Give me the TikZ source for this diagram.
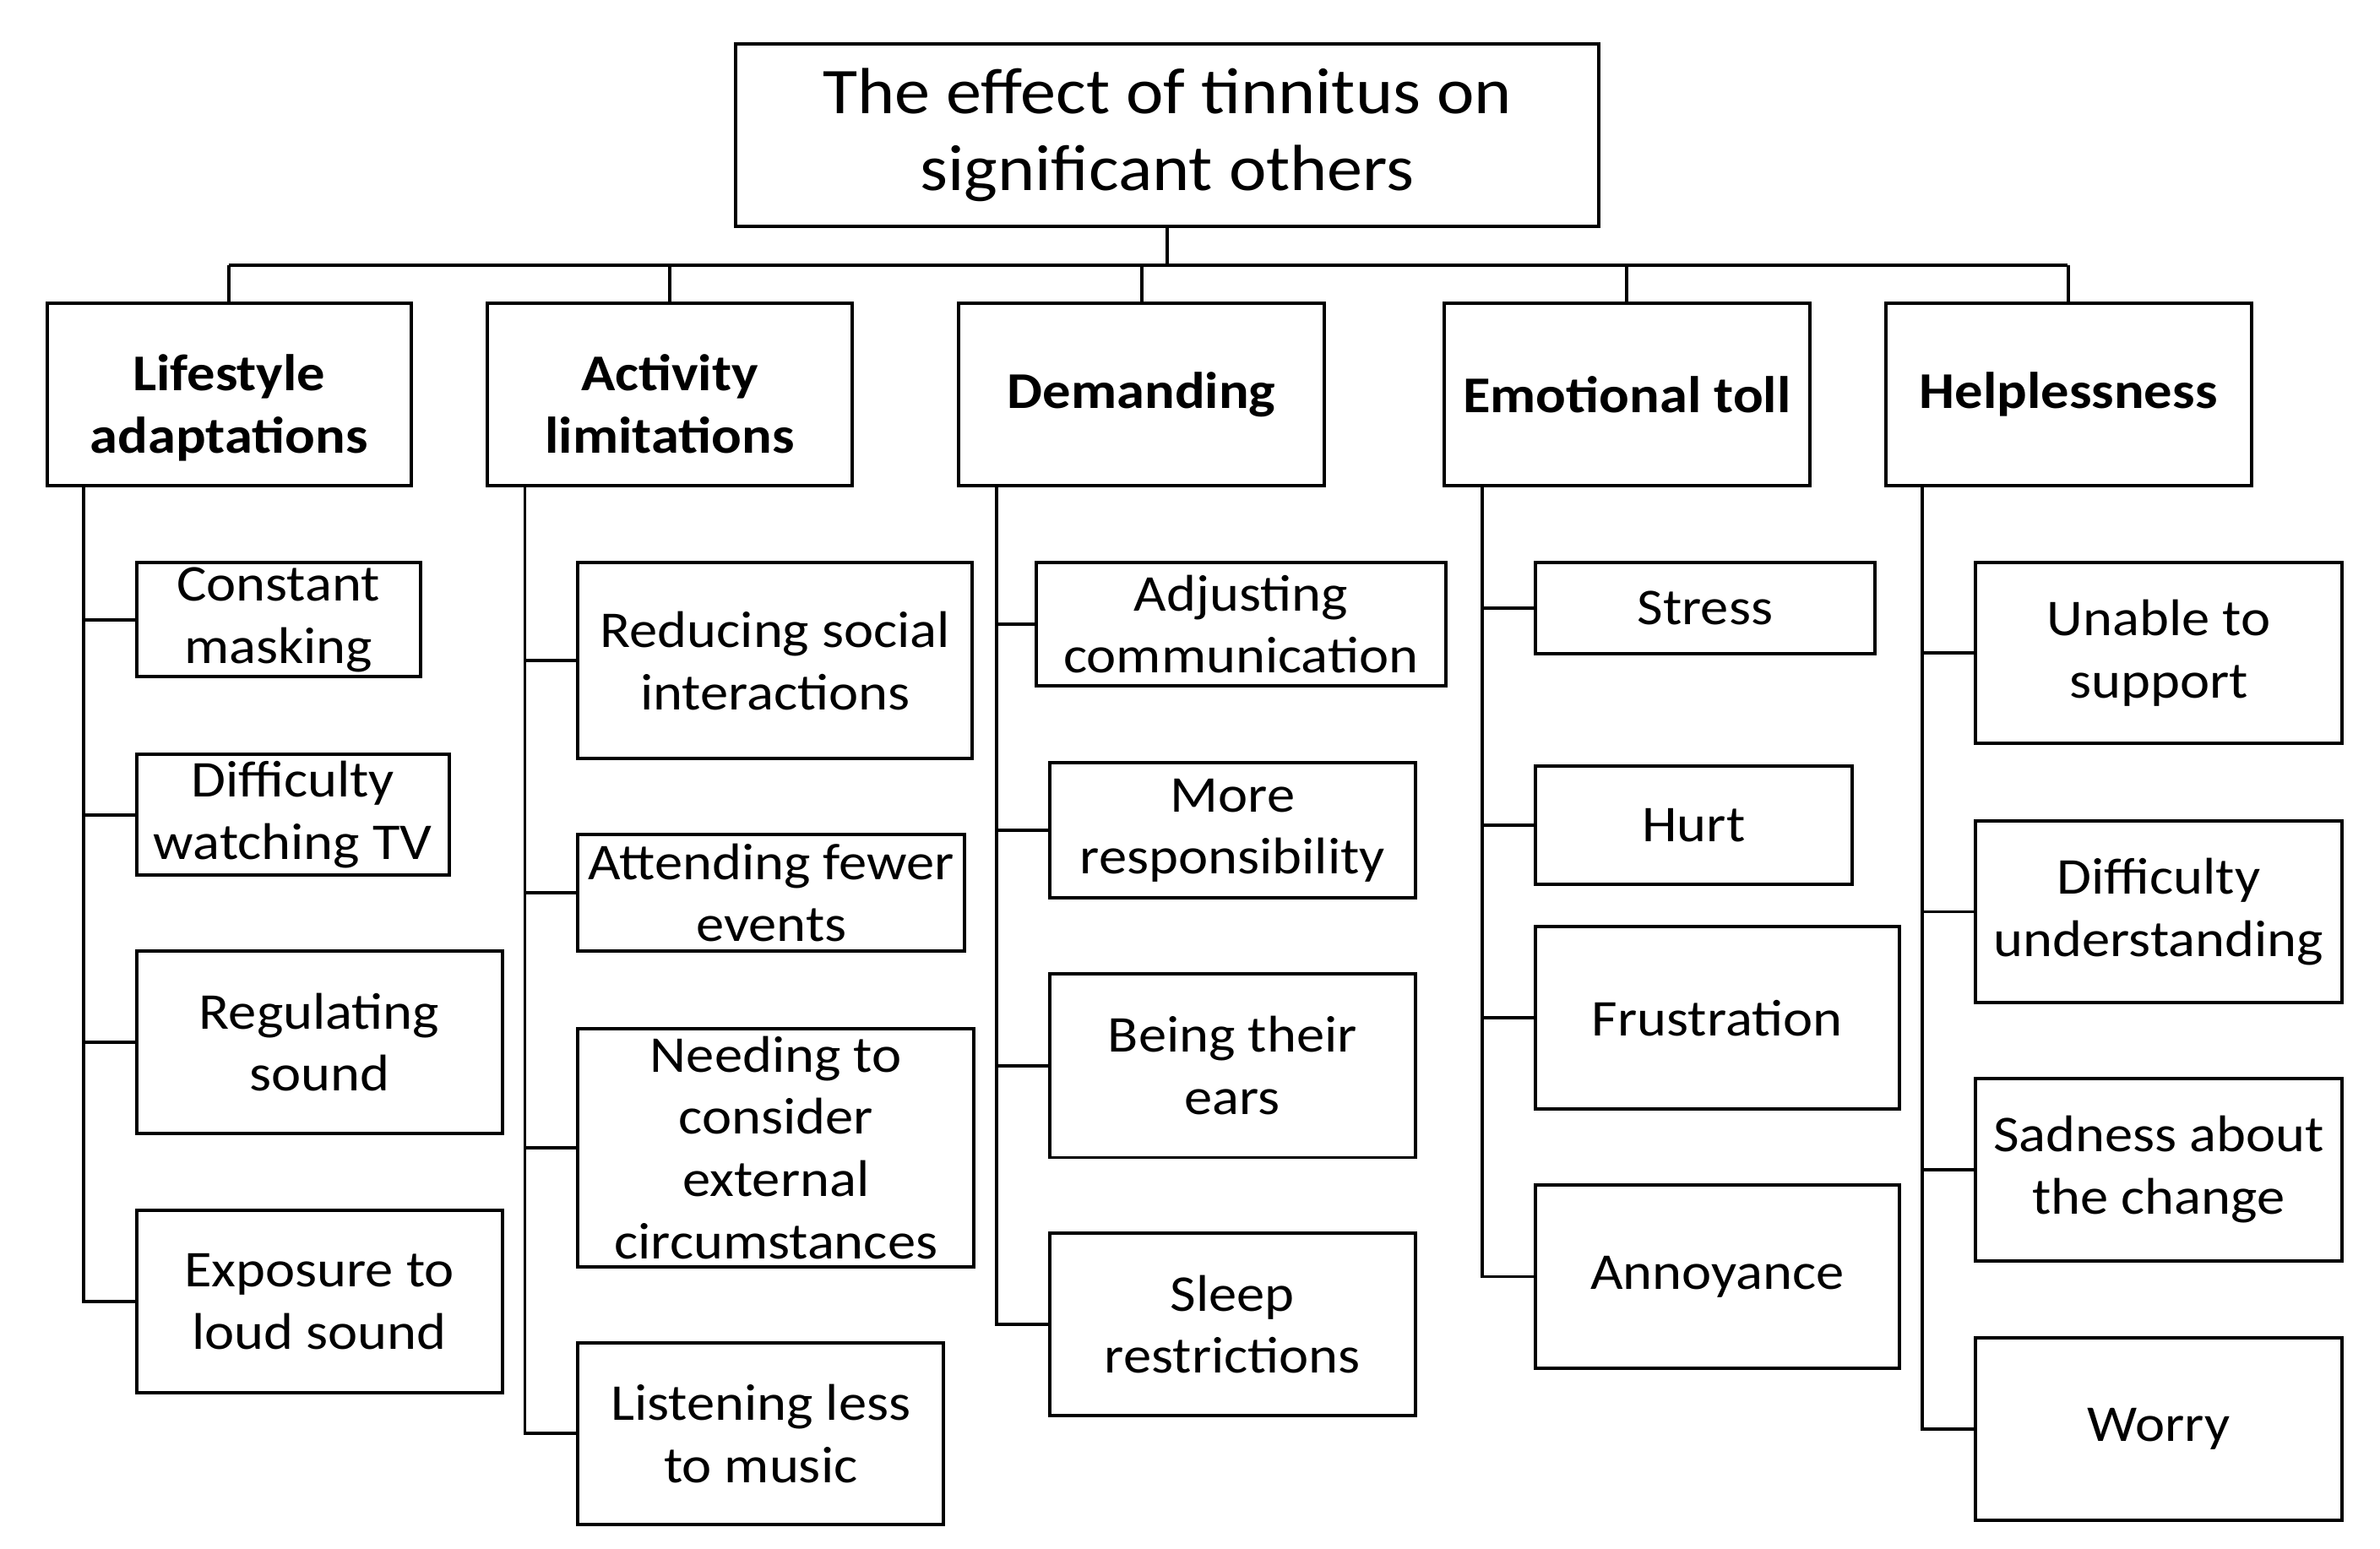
\documentclass[tikz,border=0pt]{standalone}
\usepackage{fontspec}
\setmainfont{Carlito}[FakeStretch=1.09]
\tikzset{
  box/.style={draw=black, line width=1.1pt, fill=white, rectangle, inner sep=0pt, outer sep=0pt, align=center, font=\fontsize{17}{20.5}\selectfont},
  headbox/.style={box, font=\fontsize{17}{20.5}\selectfont\bfseries},
  titlebox/.style={box, font=\fontsize{21.5}{25.5}\selectfont},
  conn/.style={draw=black, line width=1.1pt}
}
\newcommand\mybox[7]{\node[#1, minimum width={(#5-#3)*0.5pt}, minimum height={(#6-#4)*0.5pt}] (#2) at ({(#3+#5)/2},{(#4+#6)/2}) {#7};}
\newcommand\twoline[2]{\raisebox{-5pt}[\height][\depth]{\begin{tabular}{@{}c@{}}#1\\#2\end{tabular}}}
\begin{document}
\begin{tikzpicture}[x=0.5pt,y=-0.5pt]
\useasboundingbox (0,0) rectangle (1568.9,1020.9);
% title
\mybox{titlebox}{title}{485}{29}{1054}{149}{The effect of tinnitus on\\significant others}
% headings
\mybox{headbox}{h1}{31}{200}{271}{320}{\twoline{Lifestyle}{adaptations}}
\mybox{headbox}{h2}{321}{200}{562}{320}{\twoline{Activity}{limitations}}
\mybox{headbox}{h3}{632}{200}{873}{320}{Demanding}
\mybox{headbox}{h4}{952}{200}{1193}{320}{Emotional toll}
\mybox{headbox}{h5}{1243}{200}{1484}{320}{Helplessness}
% column 1
\mybox{box}{c11}{90}{371}{277}{446}{Constant\\masking}
\mybox{box}{c12}{90}{497}{296}{577}{Difficulty\\watching TV}
\mybox{box}{c13}{90}{627}{331}{747}{Regulating\\sound}
\mybox{box}{c14}{90}{798}{331}{918}{Exposure to\\loud sound}
% column 2
\mybox{box}{c21}{381}{371}{641}{500}{Reducing social\\interactions}
\mybox{box}{c22}{381}{550}{636}{627}{Attending fewer\\events}
\mybox{box}{c23}{381}{678}{642}{835}{Needing to\\consider\\external\\circumstances}
\mybox{box}{c24}{381}{885}{622}{1005}{Listening less\\to music}
% column 3
\mybox{box}{c31}{683}{371}{953}{452}{Adjusting\\communication}
\mybox{box}{c32}{692}{503}{933}{592}{More\\responsibility}
\mybox{box}{c33}{692}{642}{933}{763}{Being their\\ears}
\mybox{box}{c34}{692}{813}{933}{933}{Sleep\\restrictions}
% column 4
\mybox{box}{c41}{1012}{371}{1236}{431}{Stress}
\mybox{box}{c42}{1012}{505}{1221}{583}{Hurt}
\mybox{box}{c43}{1012}{611}{1252}{731}{Frustration}
\mybox{box}{c44}{1012}{781}{1252}{902}{Annoyance}
% column 5
\mybox{box}{c51}{1302}{371}{1544}{490}{Unable to\\support}
\mybox{box}{c52}{1302}{541}{1544}{661}{Difficulty\\understanding}
\mybox{box}{c53}{1302}{711}{1544}{831}{Sadness about\\the change}
\mybox{box}{c54}{1302}{882}{1544}{1002}{Worry}
% bus
\coordinate (busL) at (151,175);
\coordinate (busR) at (1363,175);
\draw[conn] (title.south) -- (title.south |- busL);
\draw[conn] (busL) -- (busR);
\foreach \h in {h1,h2,h3,h4,h5} \draw[conn] (\h.north) -- (\h.north |- busL);
% trunks
\coordinate (t1) at (55,320);
\coordinate (t2) at (346,320);
\coordinate (t3) at (657,320);
\coordinate (t4) at (977,320);
\coordinate (t5) at (1267,320);
\draw[conn] (t1) |- (c14.west);
\draw[conn] (t2) |- (c24.west);
\draw[conn] (t3) |- (c34.west);
\draw[conn] (t4) |- (c44.west);
\draw[conn] (t5) |- (c54.west);
\foreach \c in {c11,c12,c13} \draw[conn] (\c.west) -- (\c.west -| t1);
\foreach \c in {c21,c22,c23} \draw[conn] (\c.west) -- (\c.west -| t2);
\foreach \c in {c31,c32,c33} \draw[conn] (\c.west) -- (\c.west -| t3);
\foreach \c in {c41,c42,c43} \draw[conn] (\c.west) -- (\c.west -| t4);
\foreach \c in {c51,c52,c53} \draw[conn] (\c.west) -- (\c.west -| t5);
\end{tikzpicture}
\end{document}
